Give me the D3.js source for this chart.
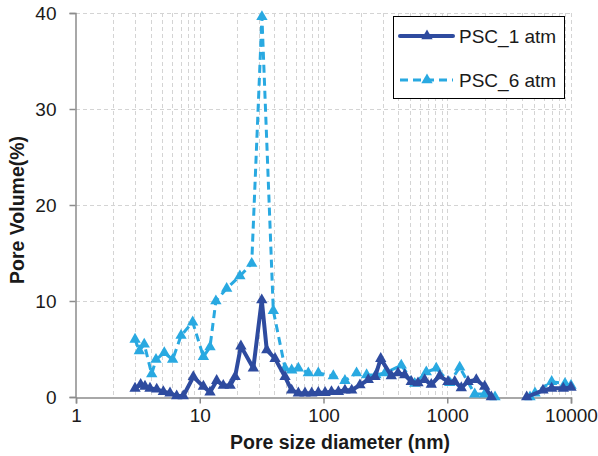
<!DOCTYPE html>
<meta charset="utf-8">
<html>
    <head>
        <script src="https://d3js.org/d3.v7.min.js"></script>
    </head>
    <style>
        body { margin: 0; background: #fff; }
        text { font-family: "Liberation Sans", Arial, sans-serif; }
    </style>
    <body>

        <div id="chart"></div>

        <script>

            // PSC_1 atm (null = gap in the curve)
            var size1 = [3.00, 3.33, 3.61, 3.96, 4.49, 5.08, 5.75, 6.51, 7.36, 8.87, 10.7, 12.1, 13.7, 15.5, 17.6, 19.3,
                21.5, 27.1, 31.7, 34.8, 40.6, 48.9, 55.3, 62.6, 70.9, 80.3, 90.8, 103, 116, 132, 149, 169, 197, 230, 261,
                290, 353, 400, 453, 512, 580, 657, 743, 869, 1014, 1149, 1299, 1472, 1717, 2007, 2270, 3200,
                4385, 5938, 6980, 8667, 10000];
            var vol1 = [0.9, 1.3, 1.1, 0.9, 0.8, 0.55, 0.4, 0.1, 0.1, 2.1, 1.1, 0.5, 1.7, 1.2, 1.2, 2.1,
                5.3, 3.0, 10.1, 4.9, 4.0, 2.1, 0.7, 0.4, 0.4, 0.4, 0.45, 0.45, 0.55, 0.55, 0.7, 0.7, 1.25, 1.8, 2.1,
                4.0, 2.2, 2.5, 2.3, 1.6, 1.45, 1.8, 1.3, 2.2, 1.6, 1.6, 0.95, 1.6, 1.8, 1.1, 0, null,
                0, 0.7, 0.9, 0.9, 1.0];

            // PSC_6 atm
            var size6 = [3.00, 3.25, 3.56, 4.09, 4.43, 5.17, 6.04, 7.06, 8.77, 10.7, 12.1, 13.5, 16.5, 21.1, 26.3,
                31.8, 39.3, 48.9, 55.3, 62.6, 75.4, 90.8, 120, 149, 185, 223, 265, 314, 425, 546, 677, 815, 1047,
                1261, 1667, 2007, 2432, 3500, 4665, 5117, 6980, 8945, 10000];
            var vol6 = [6.0, 4.8, 5.5, 2.4, 3.9, 4.6, 3.9, 6.4, 7.8, 4.2, 5.2, 10.0, 11.3, 12.6, 13.9,
                39.6, 9.0, 3.0, 2.8, 3.0, 2.5, 2.5, 2.2, 1.7, 2.5, 2.3, 2.3, 2.5, 3.3, 1.4, 2.6, 3.0, 1.5,
                3.1, 0.3, 0.3, 0, null, 0, 0.4, 1.6, 1.4, 1.2];

            var xTicks = [1, 10, 100, 1000, 10000];
            var yTicks = [0, 10, 20, 30, 40];
            var seriesNames = ["PSC_1 atm", "PSC_6 atm"];
            var seriesColors = ["#2E4B9F", "#29A9E1"];

            var width = 598, height = 456;
            var margin = {top: 13, right: 27, bottom: 59, left: 76};

            var svg = d3.select("#chart")
                .append("svg")
                .attr("width", width)
                .attr("height", height);

            var x = d3.scaleLog()
                .domain([1, 10000])
                .range([margin.left, width - margin.right]);

            var y = d3.scaleLinear()
                .domain([0, 40])
                .range([height - margin.bottom, margin.top]);

            // dashed grid: every log step vertically, majors horizontally
            var minor = [];
            for (var k = 0; k < 4; k++) {
                for (var m = 2; m <= 10; m++) minor.push(m * Math.pow(10, k));
            }

            svg.append("g")
                .attr("stroke", "#d4d4d4")
                .attr("stroke-width", 1)
                .attr("stroke-dasharray", "4,3")
                .selectAll("line")
                .data(minor)
                .join("line")
                .attr("x1", d => Math.round(x(d)) + 0.5)
                .attr("x2", d => Math.round(x(d)) + 0.5)
                .attr("y1", y(40))
                .attr("y2", y(0));

            svg.append("g")
                .attr("stroke", "#d4d4d4")
                .attr("stroke-width", 1)
                .attr("stroke-dasharray", "4,3")
                .selectAll("line")
                .data(yTicks.slice(1))
                .join("line")
                .attr("x1", x(1))
                .attr("x2", x(10000))
                .attr("y1", d => Math.round(y(d)) + 0.5)
                .attr("y2", d => Math.round(y(d)) + 0.5);

            // axes
            var xAxis = svg.append("g")
                .attr("transform", `translate(0,${Math.round(y(0)) + 0.5})`)
                .call(d3.axisBottom(x).tickValues(xTicks).tickFormat(d3.format("d")).tickSize(6).tickPadding(5));

            var yAxis = svg.append("g")
                .attr("transform", `translate(${Math.round(x(1)) - 0.5},0)`)
                .call(d3.axisLeft(y).tickValues(yTicks).tickSize(6).tickPadding(13));

            [xAxis, yAxis].forEach(function (g) {
                g.select(".domain").attr("stroke", "#8c8c8c").attr("stroke-width", 1.5);
                g.selectAll(".tick line").attr("stroke", "#8c8c8c").attr("stroke-width", 1.5);
                g.selectAll(".tick text")
                    .attr("fill", "#1a1a1a")
                    .attr("font-size", 19)
                    .attr("font-family", "'Liberation Sans', Arial, sans-serif");
            });

            // series
            var series = [
                {name: seriesNames[0], sizes: size1, vols: vol1, color: seriesColors[0], width: 4, dash: null},
                {name: seriesNames[1], sizes: size6, vols: vol6, color: seriesColors[1], width: 3, dash: "8,5"}
            ];

            var line = d3.line()
                .defined(d => d[1] !== null)
                .x(d => x(d[0]))
                .y(d => y(d[1]));

            var tri = d3.symbol().type(d3.symbolTriangle).size(56);

            // draw the 6 atm curve first so 1 atm sits on top
            series.slice().reverse().forEach(function (s) {
                var pts = s.sizes.map((v, i) => [v, s.vols[i]]);

                svg.append("path")
                    .datum(pts)
                    .attr("fill", "none")
                    .attr("stroke", s.color)
                    .attr("stroke-width", s.width)
                    .attr("stroke-dasharray", s.dash)
                    .attr("stroke-linejoin", "round")
                    .attr("d", line);

                svg.append("g")
                    .attr("fill", s.color)
                    .selectAll("path")
                    .data(pts.filter(d => d[1] !== null))
                    .join("path")
                    .attr("transform", d => `translate(${x(d[0])},${y(d[1])})`)
                    .attr("d", tri);
            });

            // axis titles
            svg.append("text")
                .attr("x", 340)
                .attr("y", 449)
                .attr("text-anchor", "middle")
                .attr("font-size", 19.5)
                .attr("font-weight", "bold")
                .attr("fill", "#1a1a1a")
                .text("Pore size diameter (nm)");

            svg.append("text")
                .attr("transform", "translate(24,210) rotate(-90)")
                .attr("text-anchor", "middle")
                .attr("font-size", 19.5)
                .attr("font-weight", "bold")
                .attr("fill", "#1a1a1a")
                .text("Pore Volume(%)");

            // legend
            var legend = svg.append("g");

            legend.append("rect")
                .attr("x", 393.5)
                .attr("y", 16.5)
                .attr("width", 171)
                .attr("height", 82)
                .attr("fill", "#fff")
                .attr("stroke", "#000")
                .attr("stroke-width", 1);

            series.forEach(function (s, i) {
                var ly = 36 + i * 44;
                legend.append("line")
                    .attr("x1", 400)
                    .attr("x2", 453)
                    .attr("y1", ly)
                    .attr("y2", ly)
                    .attr("stroke", s.color)
                    .attr("stroke-width", s.width)
                    .attr("stroke-dasharray", s.dash)
                    .attr("stroke-linecap", i ? "butt" : "round");
                legend.append("path")
                    .attr("transform", `translate(427,${ly})`)
                    .attr("fill", s.color)
                    .attr("d", tri);
                legend.append("text")
                    .attr("x", 459)
                    .attr("y", ly)
                    .attr("dy", "0.35em")
                    .attr("font-size", 19)
                    .attr("fill", "#1a1a1a")
                    .text(s.name);
            });

        </script>
    </body>
</html>
